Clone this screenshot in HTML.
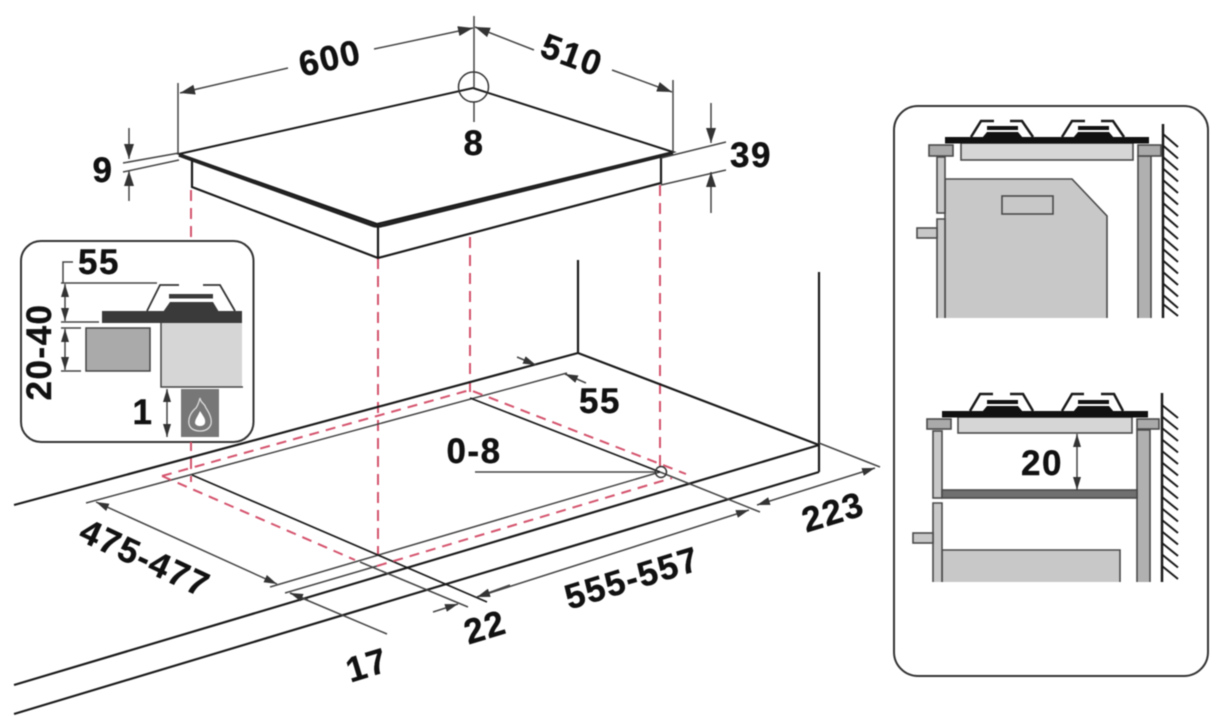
<!DOCTYPE html>
<html>
<head>
<meta charset="utf-8">
<style>
html,body{margin:0;padding:0;background:#fff;}
svg{display:block;filter:blur(0.4px);}
text{font-family:"Liberation Sans",sans-serif;font-weight:bold;font-size:35px;fill:#111;stroke:#111;stroke-width:0.4;letter-spacing:1.5px;text-anchor:middle;}
.k{stroke:#1a1a1a;stroke-width:2.2;fill:none;}
.t{stroke:#444;stroke-width:1.5;fill:none;}
.d{stroke:#444;stroke-width:1.5;fill:none;marker-end:url(#a);}
.b{stroke:#444;stroke-width:1.5;fill:none;marker-start:url(#a);marker-end:url(#a);}
.s{stroke:#444;stroke-width:1.5;fill:none;marker-end:url(#s);}
.sb{stroke:#444;stroke-width:1.5;fill:none;marker-start:url(#s);marker-end:url(#s);}
.r{stroke:#d4526c;stroke-width:2;fill:none;stroke-dasharray:11 7;}
.g{stroke:#4a4a4a;stroke-width:1.6;}
.h{stroke:#1a1a1a;stroke-width:2;fill:none;}
</style>
</head>
<body>
<svg width="1220" height="716" viewBox="0 0 1220 716" xmlns="http://www.w3.org/2000/svg">
<defs>
<marker id="a" markerUnits="userSpaceOnUse" markerWidth="16" markerHeight="12" refX="15" refY="5" orient="auto-start-reverse"><path d="M0,0L15,5L0,10Z" fill="#333"/></marker>
<marker id="s" markerUnits="userSpaceOnUse" markerWidth="14" markerHeight="10" refX="13" refY="4" orient="auto-start-reverse"><path d="M0,0L13,4L0,8Z" fill="#333"/></marker>
</defs>

<!-- Red projection lines -->
<path class="r" d="M191 190V240M191 440V482M378 258V556M470 237V392M660 185V470"/>

<!-- Countertop -->
<path class="k" d="M14 505L578 353L819 445M14 685L819 445M14 714L819 472M578 260V353M819 272V472"/>

<!-- Cutout and extension lines -->
<path class="t" d="M86 503L567 373M270 587L660 472M285 593L377 566"/>
<path class="k" style="stroke-width:1.7" d="M192 475L487 602M470 398L660 472"/>
<path class="t" d="M660 472L760 512M360 562L468 607M290 593L387 634M819 443L880 467"/>

<!-- Red cutout outline -->
<path class="r" style="stroke-dasharray:10 7" d="M162 476L470 390L686 474M162 476L355 560M377 566L672 478"/>

<!-- 0-8 -->
<path class="t" d="M475 472H655"/>
<circle cx="661" cy="472" r="5.5" fill="none" stroke="#333" stroke-width="1.5"/>

<!-- Hob -->
<path d="M179 154L473 88L673 152L377 224Z" fill="#fff" stroke="#1a1a1a" stroke-width="2"/>
<path d="M179 154L372 224Q377 226 384 224L673 152" fill="none" stroke="#222" stroke-width="3.5" transform="translate(0,1)"/>
<path class="k" d="M192 160V187L378 258L661 183V156M378 226V258"/>

<!-- Top dimensions -->
<path class="t" d="M178 83V154M474 16V88M474 102V122M673 80V152"/>
<circle cx="473.500" cy="87" r="15" fill="none" stroke="#333" stroke-width="1.5"/>
<path class="d" d="M288 68L180 93"/>
<path class="d" d="M374 49L473 28"/>
<path class="d" d="M534 50L475 27"/>
<path class="d" d="M612 70L672 92"/>
<path class="t" d="M123 163L179 153M123 172L179 160"/>
<path class="d" d="M129 128V159"/>
<path class="d" d="M129 201V171"/>
<path class="t" d="M661 158L726 142M661 185L726 170"/>
<path class="d" d="M711 103V143"/>
<path class="d" d="M711 213V172"/>

<text transform="translate(330,58) rotate(-13)" y="12">600</text>
<text transform="translate(572,55) rotate(20)" y="12">510</text>
<text transform="translate(474,143)" y="12">8</text>
<text transform="translate(103,170)" y="12">9</text>
<text transform="translate(751,155)" y="12">39</text>

<!-- Countertop dimensions -->
<path class="s" d="M517 357L536 365"/>
<path class="s" d="M586 383L565 374"/>
<text transform="translate(600,401)" y="12">55</text>
<text transform="translate(474,451)" y="12">0-8</text>
<path class="sb" d="M96 502L277 584"/>
<path class="s" d="M308 600L290 593"/>
<path class="sb" d="M477 597L749 510"/>
<path class="sb" d="M757 505L875 468"/>
<path class="s" d="M433 612L458 604"/>
<path class="s" d="M510 585L477 597"/>
<text transform="translate(145,558) rotate(25)" y="12">475-477</text>
<text transform="translate(632,578) rotate(-17)" y="12">555-557</text>
<text transform="translate(833,512) rotate(-17)" y="12">223</text>
<text transform="translate(485,627) rotate(-17)" y="12">22</text>
<text transform="translate(367,665) rotate(-17)" y="12">17</text>

<!-- Left inset -->
<rect x="21" y="241" width="232.500" height="201" rx="20" fill="#fff" stroke="#333" stroke-width="2"/>
<path d="M191 442V450" stroke="#d4526c" stroke-width="2"/>
<rect x="86" y="328" width="64" height="43" fill="#aaa" stroke="#444" stroke-width="1.5"/>
<rect x="161" y="323" width="81" height="64" fill="#d6d6d6"/>
<path d="M161 323V387H243" fill="none" stroke="#444" stroke-width="1.5"/>
<rect x="181" y="389" width="38" height="48" fill="#777"/>
<path d="M200 398C201 404 204 402 206 408C210 414 212 419 211 424C209 430 204 431 200 431C195 431 190 429 189 424C188 418 191 412 196 408C198 405 199 402 200 398Z" fill="none" stroke="#ddd" stroke-width="1.3"/>
<path d="M200 411C203 416 206 419 205 423C204 427 196 427 195 423C195 419 198 416 200 411Z" fill="#fff"/>
<rect x="102" y="311" width="140" height="12" fill="#3a3a3a"/>
<path d="M163 312L170 302H213L219 312Z" fill="#3a3a3a"/>
<rect x="169" y="294" width="44" height="4.500" fill="#3a3a3a"/>
<path d="M147 311L160 285H179M203 285H220L235 311" fill="none" stroke="#333" stroke-width="1.800"/>
<path class="t" d="M61 283H157M61 322H99M61 328H81M61 371H81M63 283V262H73"/>
<path class="sb" d="M65 284V321"/>
<path class="sb" d="M65 329V370"/>
<path class="sb" d="M167 389V437"/>
<text transform="translate(99,262)" y="12">55</text>
<text transform="translate(39,352) rotate(-90)" y="12">20-40</text>
<text transform="translate(143,412)" y="12">1</text>

<!-- Right panel -->
<rect x="894" y="106" width="314" height="570" rx="24" fill="#fff" stroke="#333" stroke-width="2"/>

<!-- Upper cabinet -->
<path d="M945 318V179H1072L1107 216V318" fill="#c8c8c8" class="g"/>
<rect x="1002" y="196" width="51" height="18" fill="#c8c8c8" class="g"/>
<path d="M937 318V219H945V318" fill="#c8c8c8" class="g"/>
<rect x="937" y="157" width="8" height="56" fill="#c8c8c8" class="g"/>
<rect x="917" y="228" width="20" height="10" fill="#c8c8c8" class="g"/>
<path d="M1138 318V156H1151V318" fill="#b0b0b0" class="g"/>
<rect x="961" y="143" width="172" height="17" fill="#d6d6d6" class="g"/>
<rect x="929" y="145" width="24" height="11" fill="#aaa" class="g"/>
<rect x="1138" y="145" width="23" height="11" fill="#aaa" class="g"/>
<rect x="945" y="137" width="204" height="6.500" fill="#111"/>
<path d="M982 138L987 132H1018L1023 138ZM1073 138L1078 132H1109L1114 138Z" fill="#111"/>
<rect x="987" y="126" width="31" height="4" fill="#111"/><rect x="1078" y="126" width="31" height="4" fill="#111"/>
<path class="h" style="stroke-width:2.500" d="M971 137L981 121H994M1010 121H1022L1033 137M1062 137L1072 121H1085M1101 121H1113L1124 137"/>
<path class="h" style="stroke-width:2.500" d="M1163 124V318"/>
<path class="h" d="M1163 134L1178 147M1163 145.500L1178 158.500M1163 157L1178 170M1163 168.500L1178 181.500M1163 180L1178 193M1163 191.500L1178 204.500M1163 203L1178 216M1163 214.500L1178 227.500M1163 226L1178 239M1163 237.500L1178 250.500M1163 249L1178 262M1163 260.500L1178 273.500M1163 272L1178 285M1163 283.500L1178 296.500M1163 295L1178 308M1163 304L1178 316"/>

<!-- Lower cabinet -->
<path d="M942 582V550H1120V582" fill="#c8c8c8" class="g"/>
<path d="M933 582V503H942V582" fill="#c8c8c8" class="g"/>
<rect x="933" y="431" width="9" height="67" fill="#c8c8c8" class="g"/>
<rect x="913" y="533" width="20" height="10" fill="#c8c8c8" class="g"/>
<path d="M1137 582V430H1150V582" fill="#b0b0b0" class="g"/>
<rect x="942" y="490" width="195" height="8" fill="#707070" class="g"/>
<rect x="958" y="417" width="174" height="16" fill="#d6d6d6" class="g"/>
<rect x="927" y="419" width="24" height="10" fill="#aaa" class="g"/>
<rect x="1137" y="419" width="22" height="10" fill="#aaa" class="g"/>
<rect x="942" y="411" width="206" height="6.500" fill="#111"/>
<path d="M982 412L987 406H1018L1023 412ZM1073 412L1078 406H1109L1114 412Z" fill="#111"/>
<rect x="987" y="400" width="31" height="4" fill="#111"/><rect x="1078" y="400" width="31" height="4" fill="#111"/>
<path class="h" style="stroke-width:2.500" d="M970 411L980 394H993M1010 394H1023L1033 411M1062 411L1072 394H1084M1101 394H1114L1123 411"/>
<path class="h" style="stroke-width:2.500" d="M1162 393V582"/>
<path class="h" d="M1162 405L1178 418M1162 416.500L1178 429.500M1162 428L1178 441M1162 439.500L1178 452.500M1162 451L1178 464M1162 462.500L1178 475.500M1162 474L1178 487M1162 485.500L1178 498.500M1162 497L1178 510M1162 508.500L1178 521.500M1162 520L1178 533M1162 531.500L1178 544.500M1162 543L1178 556M1162 554.500L1178 567.500M1162 566L1178 579"/>
<path class="sb" d="M1077 434V490"/>
<text transform="translate(1042,463)" y="12">20</text>
</svg>
</body>
</html>
